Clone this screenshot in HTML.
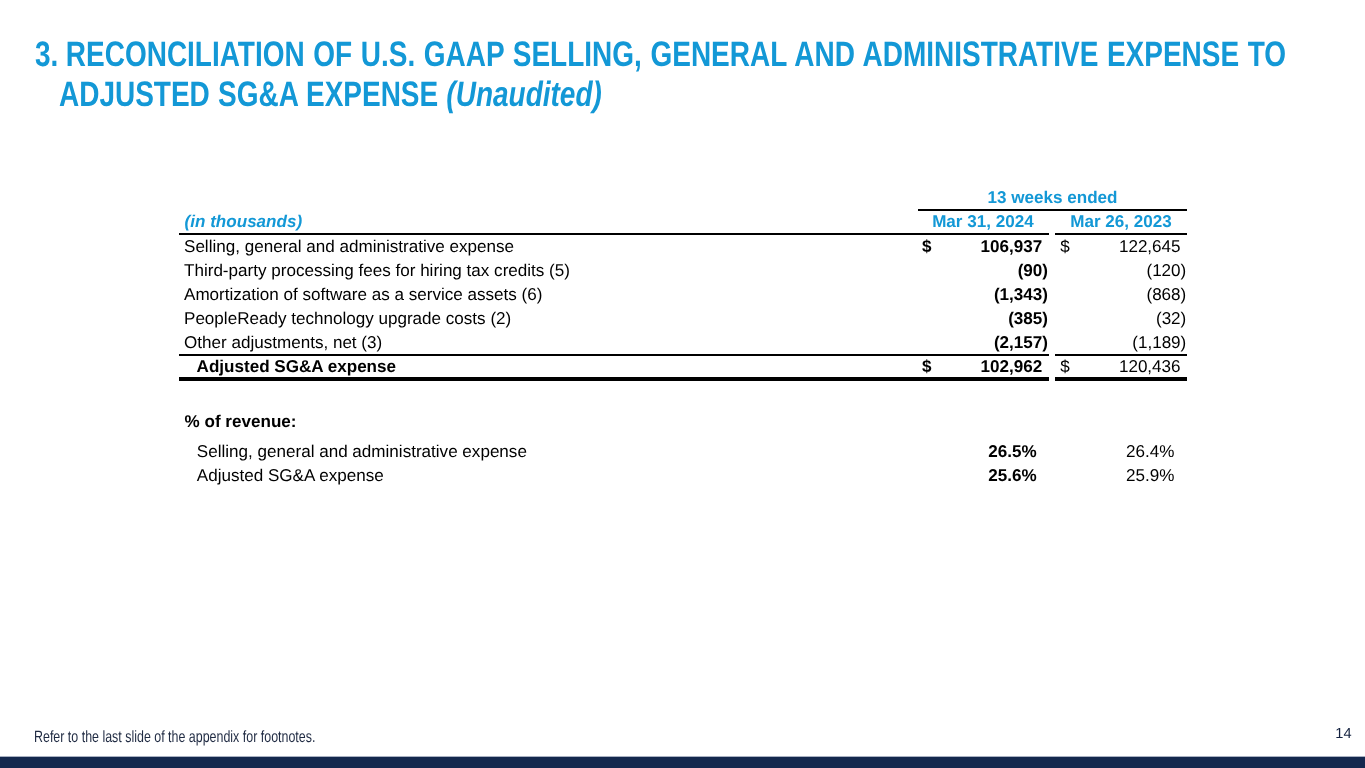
<!DOCTYPE html>
<html lang="en">
<head>
<meta charset="utf-8">
<title>Reconciliation of U.S. GAAP SG&amp;A Expense to Adjusted SG&amp;A Expense</title>
<style>
  html, body { margin: 0; padding: 0; }
  body {
    width: 1365px; height: 768px; overflow: hidden; position: relative;
    background: #ffffff; color: #000000;
    font-family: "Liberation Sans", Arial, Helvetica, sans-serif;
    text-rendering: geometricPrecision;
  }
  .slide { position: absolute; left: 0; top: 0; width: 1365px; height: 768px; overflow: hidden; background: #fff; }

  /* ---------- title (condensed bold) ---------- */
  .title { position: absolute; left: 0; top: 0; margin: 0; font-size: 34.13px; font-weight: bold; color: #1398d6; }
  .title span {
    position: absolute; display: block; white-space: nowrap;
    font-size: 34.13px; line-height: 40px; height: 40px;
    transform-origin: 0 0;
  }
  .title .l1 { left: 34.6px; top: 33.6px; word-spacing: 1.03px; transform: scale(0.82, 1.035); }
  .title .l2 { left: 59.4px; top: 74.4px; word-spacing: 0.5px; transform: scale(0.82, 1.035); }
  .title i { font-style: italic; }
  .title b { font-weight: bold; margin-right: -1.4px; }

  /* ---------- table ---------- */
  .t { position: absolute; white-space: nowrap; font-size: 17.07px; line-height: 20px; height: 20px; }
  .b { font-weight: bold; }
  .blue { color: #1398d6; }
  .r { text-align: right; }
  .c { text-align: center; }
  .rule { position: absolute; background: #000; }

  /* ---------- footer ---------- */
  .foot {
    position: absolute; left: 34px; top: 728.8px;
    font-size: 16.4px; line-height: 17px; color: #1f2a42; text-rendering: geometricPrecision; white-space: nowrap;
    transform: scale(0.7588, 1); transform-origin: 0 0;
  }
  .pageno {
    position: absolute; left: 1300px; width: 51.6px; top: 725.6px; text-align: right;
    font-size: 14.6px; line-height: 17px; color: #13213f;
  }
  .bar { position: absolute; left: 0; top: 756px; width: 1365px; height: 12px; background: #14284e; border-top: 1px solid #a9b1c2; box-sizing: border-box; }
</style>
</head>
<body>
<div class="slide">

  <h1 class="title"><span class="l1"><b>3.</b> RECONCILIATION OF U.S. GAAP SELLING, GENERAL AND ADMINISTRATIVE EXPENSE TO</span> <span class="l2">ADJUSTED SG&amp;A EXPENSE <i>(Unaudited)</i></span></h1>

  <!-- header -->
  <div class="t b blue c" style="left:918px;width:269px;top:188px;">13 weeks ended</div>
  <div class="rule" style="left:918px;width:269px;top:208.8px;height:2.1px;"></div>

  <div class="t b blue" style="left:184.6px;top:212px;"><i>(in thousands)</i></div>
  <div class="t b blue c" style="left:917.4px;width:131px;top:212px;">Mar 31, 2024</div>
  <div class="t b blue c" style="left:1055px;width:132px;top:212px;">Mar 26, 2023</div>
  <div class="rule" style="left:179px;width:870px;top:232.8px;height:2.1px;"></div>
  <div class="rule" style="left:1055px;width:132px;top:232.8px;height:2.1px;"></div>

  <!-- row 1 -->
  <div class="t" style="left:184px;top:237px;">Selling, general and administrative expense</div>
  <div class="t b" style="left:922px;top:237px;">$</div>
  <div class="t b r" style="left:940px;width:102.3px;top:237px;">106,937</div>
  <div class="t" style="left:1060.2px;top:237px;">$</div>
  <div class="t r" style="left:1080px;width:100.6px;top:237px;">122,645</div>

  <!-- row 2 -->
  <div class="t" style="left:184px;top:261px;">Third-party processing fees for hiring tax credits (5)</div>
  <div class="t b r" style="left:940px;width:108px;top:261px;">(90)</div>
  <div class="t r" style="left:1080px;width:106.3px;top:261px;">(120)</div>

  <!-- row 3 -->
  <div class="t" style="left:184px;top:285px;">Amortization of software as a service assets (6)</div>
  <div class="t b r" style="left:940px;width:108px;top:285px;">(1,343)</div>
  <div class="t r" style="left:1080px;width:106.3px;top:285px;">(868)</div>

  <!-- row 4 -->
  <div class="t" style="left:184px;top:309px;">PeopleReady technology upgrade costs (2)</div>
  <div class="t b r" style="left:940px;width:108px;top:309px;">(385)</div>
  <div class="t r" style="left:1080px;width:106.3px;top:309px;">(32)</div>

  <!-- row 5 -->
  <div class="t" style="left:184px;top:333px;">Other adjustments, net (3)</div>
  <div class="t b r" style="left:940px;width:108px;top:333px;">(2,157)</div>
  <div class="t r" style="left:1080px;width:106.3px;top:333px;">(1,189)</div>

  <div class="rule" style="left:179px;width:870px;top:353.8px;height:2.1px;"></div>
  <div class="rule" style="left:1055px;width:132px;top:353.8px;height:2.1px;"></div>

  <!-- total row -->
  <div class="t b" style="left:196.6px;top:357px;">Adjusted SG&amp;A expense</div>
  <div class="t b" style="left:922px;top:357px;">$</div>
  <div class="t b r" style="left:940px;width:102.3px;top:357px;">102,962</div>
  <div class="t" style="left:1060.2px;top:357px;">$</div>
  <div class="t r" style="left:1080px;width:100.6px;top:357px;">120,436</div>

  <div class="rule" style="left:179px;width:870px;top:377.2px;height:3.6px;"></div>
  <div class="rule" style="left:1055px;width:132px;top:377.2px;height:3.6px;"></div>

  <!-- percent of revenue -->
  <div class="t b" style="left:184.6px;top:412px;">% of revenue:</div>

  <div class="t" style="left:196.8px;top:442px;">Selling, general and administrative expense</div>
  <div class="t b r" style="left:940px;width:96.6px;top:442px;">26.5%</div>
  <div class="t r" style="left:1080px;width:94.4px;top:442px;">26.4%</div>

  <div class="t" style="left:196.8px;top:466px;">Adjusted SG&amp;A expense</div>
  <div class="t b r" style="left:940px;width:96.6px;top:466px;">25.6%</div>
  <div class="t r" style="left:1080px;width:94.4px;top:466px;">25.9%</div>

  <!-- footer -->
  <div class="foot">Refer to the last slide of the appendix for footnotes.</div>
  <div class="pageno">14</div>
  <div class="bar"></div>

</div>
</body>
</html>
